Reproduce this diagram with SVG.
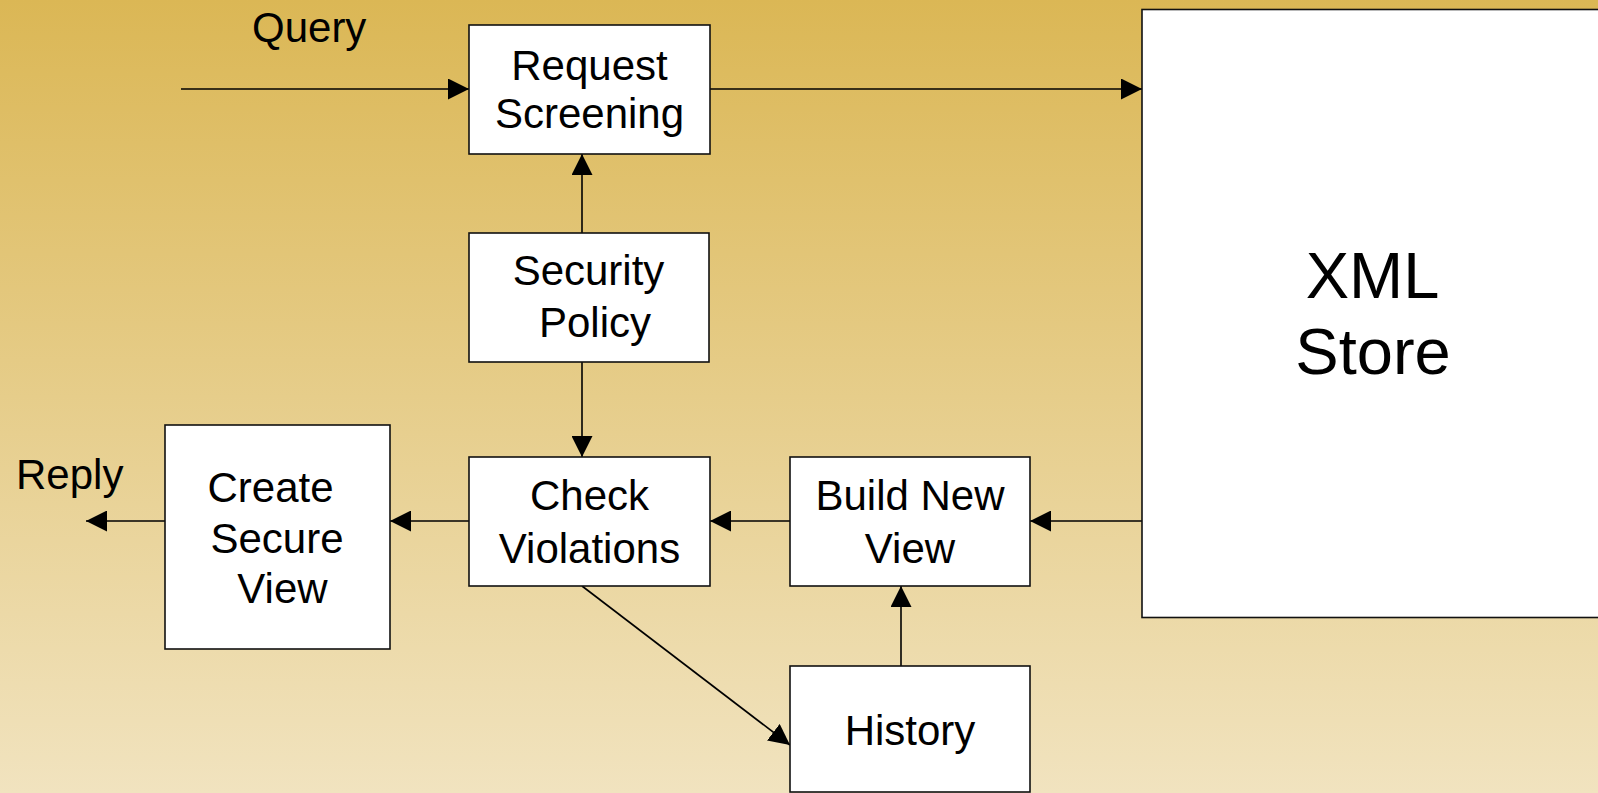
<svg xmlns="http://www.w3.org/2000/svg" width="1598" height="793" viewBox="0 0 1598 793">
<defs>
<linearGradient id="bg" x1="0" y1="0" x2="0" y2="1">
<stop offset="0" stop-color="#DBB755"/>
<stop offset="1" stop-color="#F1E3BF"/>
</linearGradient>
<marker id="ah" markerUnits="userSpaceOnUse" markerWidth="21" markerHeight="21" viewBox="0 0 21 21" refX="21" refY="10.5" orient="auto">
<path d="M0,0 L21,10.5 L0,21 z" fill="#000"/>
</marker>
<style>
.box{fill:#fff;stroke:#111;stroke-width:1.6}
.lbl{font-family:"Liberation Sans",Arial,sans-serif;font-size:42px;fill:#000;text-anchor:middle}
.free{font-family:"Liberation Sans",Arial,sans-serif;font-size:42px;fill:#000}
.big{font-family:"Liberation Sans",Arial,sans-serif;font-size:65px;fill:#000;text-anchor:middle}
.con{stroke:#000;stroke-width:1.6;fill:none;marker-end:url(#ah)}
</style>
</defs>
<rect x="0" y="0" width="1598" height="793" fill="url(#bg)"/>
<g id="connectors">
<line class="con" x1="181" y1="89" x2="469" y2="89"/>
<line class="con" x1="710" y1="89" x2="1142" y2="89"/>
<line class="con" x1="582" y1="233" x2="582" y2="154"/>
<line class="con" x1="582" y1="362" x2="582" y2="457"/>
<line class="con" x1="1142" y1="521" x2="1030" y2="521"/>
<line class="con" x1="790" y1="521" x2="710" y2="521"/>
<line class="con" x1="469" y1="521" x2="390" y2="521"/>
<line class="con" x1="165" y1="521" x2="86" y2="521"/>
<line class="con" x1="901" y1="666" x2="901" y2="586"/>
<line class="con" x1="582" y1="586" x2="790" y2="745"/>
</g>
<g id="query-label"><text class="free" x="252" y="42">Query</text></g>
<g id="reply-label"><text class="free" x="16" y="489">Reply</text></g>
<g id="request-screening">
<rect class="box" x="469" y="25" width="241" height="129"/>
<text class="lbl" x="589.5" y="80">Request</text>
<text class="lbl" x="589.5" y="128">Screening</text>
</g>
<g id="security-policy">
<rect class="box" x="469" y="233" width="240" height="129"/>
<text class="lbl" x="588.5" y="285">Security</text>
<text class="lbl" x="595" y="337">Policy</text>
</g>
<g id="check-violations">
<rect class="box" x="469" y="457" width="241" height="129"/>
<text class="lbl" x="589.5" y="510">Check</text>
<text class="lbl" x="589.5" y="563">Violations</text>
</g>
<g id="build-new-view">
<rect class="box" x="790" y="457" width="240" height="129"/>
<text class="lbl" x="910" y="510">Build New</text>
<text class="lbl" x="910" y="563">View</text>
</g>
<g id="history">
<rect class="box" x="790" y="666" width="240" height="126"/>
<text class="lbl" x="910" y="745">History</text>
</g>
<g id="create-secure-view">
<rect class="box" x="165" y="425" width="225" height="224"/>
<text class="lbl" x="270.5" y="502">Create</text>
<text class="lbl" x="277" y="553">Secure</text>
<text class="lbl" x="282.5" y="603">View</text>
</g>
<g id="xml-store">
<rect class="box" x="1142" y="9.5" width="500" height="608"/>
<text class="big" x="1372.5" y="298">XML</text>
<text class="big" x="1373" y="374">Store</text>
</g>
</svg>
